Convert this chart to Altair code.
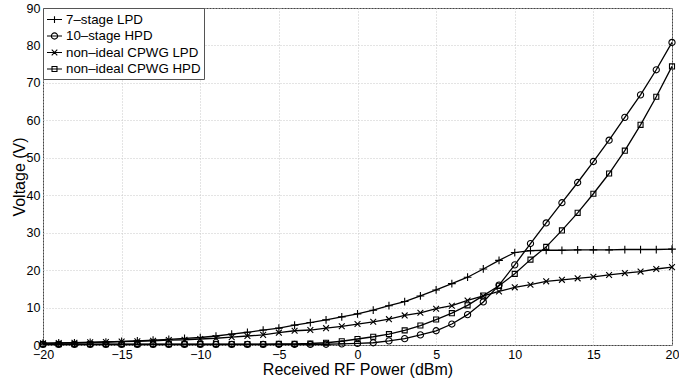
import altair as alt
import pandas as pd

power = list(range(-20, 21))

lpd7 = [0.5, 0.55, 0.6, 0.7, 0.8, 0.95, 1.1, 1.3, 1.5, 1.75, 2.0, 2.4, 2.9, 3.4, 4.0, 4.5,
        5.3, 6.0, 6.7, 7.5, 8.3, 9.3, 10.5, 11.6, 13.1, 14.7, 16.4, 18.1, 20.3, 22.6, 24.7,
        25.2, 25.3, 25.3, 25.4, 25.4, 25.4, 25.5, 25.5, 25.5, 25.6]
hpd10 = [0.15, 0.15, 0.15, 0.15, 0.15, 0.15, 0.15, 0.15, 0.15, 0.15, 0.15, 0.15, 0.15, 0.15, 0.15, 0.15,
         0.15, 0.15, 0.2, 0.3, 0.45, 0.6, 1.1, 1.7, 2.7, 3.8, 5.6, 8.1, 11.5, 16.0, 21.4,
         27.1, 32.6, 38.0, 43.4, 49.0, 54.7, 60.8, 66.8, 73.5, 80.8]
cpwg_lpd = [0.45, 0.5, 0.6, 0.7, 0.8, 0.9, 1.0, 1.1, 1.3, 1.4, 1.6, 1.8, 2.1, 2.4, 2.7, 3.3,
            3.8, 4.0, 4.5, 5.0, 5.6, 6.2, 6.9, 7.9, 8.6, 9.7, 10.5, 11.9, 13.1, 14.3, 15.4,
            16.1, 17.0, 17.4, 17.8, 18.2, 18.7, 19.2, 19.6, 20.3, 20.8]
cpwg_hpd = [0.25, 0.25, 0.25, 0.25, 0.25, 0.25, 0.25, 0.25, 0.25, 0.25, 0.25, 0.25, 0.25, 0.25, 0.25, 0.3,
            0.3, 0.4, 0.6, 1.0, 1.6, 2.2, 2.9, 3.9, 5.2, 6.8, 8.5, 10.6, 13.2, 15.8, 19.0,
            22.8, 26.2, 30.6, 35.3, 40.4, 45.8, 51.9, 58.8, 66.3, 74.4]

series_names = ["7\u2013stage LPD", "10\u2013stage HPD",
                "non\u2013ideal CPWG LPD", "non\u2013ideal CPWG HPD"]

rows = []
for name, vals in zip(series_names, [lpd7, hpd10, cpwg_lpd, cpwg_hpd]):
    for p, v in zip(power, vals):
        rows.append({"power": p, "voltage": v, "series": name})
df = pd.DataFrame(rows)

plot_shapes = [
    "M-1,0H1M0,-1V1",
    "M-0.8,0A0.8,0.8 0 1,0 0.8,0A0.8,0.8 0 1,0 -0.8,0",
    "M-0.75,-0.75L0.75,0.75M-0.75,0.75L0.75,-0.75",
    "M-0.65,-0.65H0.65V0.65H-0.65Z",
]
legend_shapes = [
    "M-1,0H1M0,-0.45V0.45",
    "M-1,0H-0.42M0.42,0H1M-0.42,0A0.42,0.42 0 1,0 0.42,0A0.42,0.42 0 1,0 -0.42,0M-0.42,0H0.42",
    "M-1,0H1M-0.37,-0.37L0.37,0.37M-0.37,0.37L0.37,-0.37",
    "M-1,0H1M-0.33,-0.33H0.33V0.33H-0.33Z",
]

FONT = "Liberation Sans"

x_enc = alt.X("power:Q",
              scale=alt.Scale(domain=[-20, 20], nice=False),
              axis=alt.Axis(title="Received RF Power (dBm)", values=list(range(-20, 21, 5)),
                            labelFlush=False))
y_enc = alt.Y("voltage:Q",
              scale=alt.Scale(domain=[0, 90], nice=False),
              axis=alt.Axis(title="Voltage (V)", values=list(range(0, 91, 10)),
                            labelFlush=False))

base = alt.Chart(df)

lines = base.mark_line(color="black", strokeWidth=1.3).encode(
    x=x_enc, y=y_enc, detail="series:N")

points = base.mark_point(filled=False, color="black", size=60, strokeWidth=1.1, opacity=1).encode(
    x=x_enc, y=y_enc,
    shape=alt.Shape("series:N", scale=alt.Scale(domain=series_names, range=plot_shapes), legend=None),
)

legend_layer = base.transform_filter("false").mark_point(
    filled=False, color="black", strokeWidth=1.1, opacity=1).encode(
    x=x_enc, y=y_enc,
    shape=alt.Shape("series:N",
                    scale=alt.Scale(domain=series_names, range=legend_shapes),
                    legend=alt.Legend(title=None, orient="top-left", offset=0)),
)

chart = alt.layer(lines, points, legend_layer).resolve_scale(shape="independent").properties(
    width=629, height=337,
    autosize=alt.AutoSizeParams(type="none"),
    padding={"left": 43, "top": 8, "right": 7, "bottom": 37},
    background="white",
).configure_view(
    stroke="#444", strokeWidth=1,
).configure_axis(
    grid=True, gridColor="#c8c8c8", gridDash=[1, 2], gridWidth=1,
    domain=False, ticks=False,
    labelFont=FONT, labelFontSize=12.5, labelColor="black", labelPadding=3,
    titleFont=FONT, titleFontSize=16, titleFontWeight="normal", titleColor="black",
).configure_axisX(titlePadding=1).configure_axisY(titlePadding=-1).configure_legend(
    labelFont=FONT, labelFontSize=13.3, labelColor="black",
    symbolSize=225, symbolStrokeColor="black", symbolFillColor="transparent",
    symbolStrokeWidth=1.1, symbolOpacity=1,
    strokeColor="#555", fillColor="white", padding=3, rowPadding=1.5,
    labelOffset=3, cornerRadius=0,
)

chart.save("out.html", embed_options={"renderer": "svg", "actions": False})
